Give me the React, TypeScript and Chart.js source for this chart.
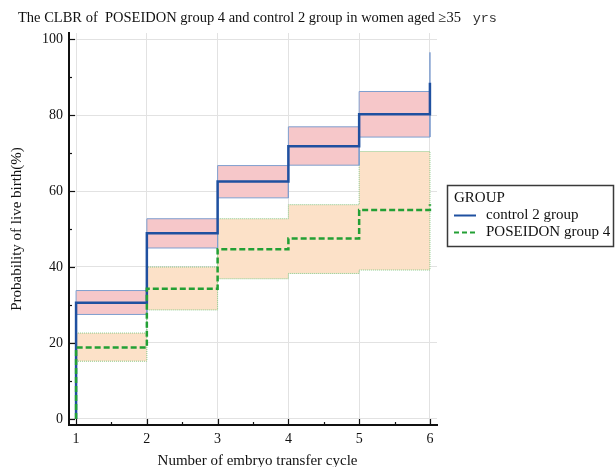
import React, { useEffect, useRef } from 'react';
import { Chart, registerables } from 'chart.js';

Chart.register(...registerables);

const TITLE_MAIN = 'The CLBR of  POSEIDON group 4 and control 2 group in women aged \u226535 ';
const TITLE_UNIT = ' yrs';
const X_TITLE = 'Number of embryo transfer cycle';
const Y_TITLE = 'Probability of live birth(%)';
const LEGEND_TITLE = 'GROUP';
const SERIES_NAMES = ['control 2 group', 'POSEIDON group 4'];

const cycles = [1, 2, 3, 4, 5, 6];
const xMajorTicks = [1, 2, 3, 4, 5, 6];
const xMinorTicks = [1.5, 2.5, 3.5, 4.5, 5.5];
const yMajorTicks = [0, 20, 40, 60, 80, 100];
const yMinorTicks = [10, 30, 50, 70, 90];

// value holding from each cycle onwards (last entry = value reached at cycle 6)
const controlCLBR = [30.6, 48.9, 62.5, 71.8, 80.2, 88.5];
const controlLower = [27.5, 45.0, 58.2, 66.8, 74.2, 80.0];
const controlUpper = [33.8, 52.7, 66.7, 76.9, 86.2, 96.5];
const poseidonCLBR = [18.8, 34.3, 44.7, 47.5, 55.0, 56.5];
const poseidonLower = [15.2, 28.7, 36.9, 38.3, 39.2, 39.2];
const poseidonUpper = [22.6, 40.0, 52.7, 56.4, 70.4, 70.4];

const SERIF = '"Liberation Serif", "Times New Roman", serif';
const MONO = '"Liberation Mono", "Courier New", monospace';
const BLUE = '#1f50a0';
const GREEN = '#23a035';

function stepPoints(values: number[]) {
  const pts = [{ x: cycles[0], y: 0 }];
  cycles.forEach((c, i) => pts.push({ x: c, y: values[i] }));
  return pts;
}

function bandPoints(lower: number[], upper: number[]) {
  const n = cycles.length;
  const pts: { x: number; y: number }[] = [];
  for (let k = 0; k < n; k++) {
    pts.push({ x: cycles[k], y: upper[k] });
    if (k < n - 1) pts.push({ x: cycles[k + 1], y: upper[k] });
  }
  for (let k = n - 1; k >= 0; k--) {
    pts.push({ x: cycles[k], y: lower[k] });
    if (k > 0) pts.push({ x: cycles[k], y: lower[k - 1] });
  }
  pts.push({ x: cycles[0], y: upper[0] });
  return pts;
}

const decorPlugin = {
  id: 'decor',
  afterDraw(chart: any) {
    const ctx = chart.ctx as CanvasRenderingContext2D;
    const xs = chart.scales.x;
    const ys = chart.scales.y;
    const area = chart.chartArea;
    ctx.save();
    // inward tick marks
    ctx.strokeStyle = '#111';
    ctx.lineWidth = 1.2;
    const left = area.left;
    const bottom = area.bottom;
    yMajorTicks.forEach((v) => {
      const py = Math.round(ys.getPixelForValue(v)) + 0.5;
      ctx.beginPath(); ctx.moveTo(left, py); ctx.lineTo(left + 6, py); ctx.stroke();
    });
    yMinorTicks.forEach((v) => {
      const py = Math.round(ys.getPixelForValue(v)) + 0.5;
      ctx.beginPath(); ctx.moveTo(left, py); ctx.lineTo(left + 3, py); ctx.stroke();
    });
    xMajorTicks.forEach((v) => {
      const px = Math.round(xs.getPixelForValue(v)) + 0.5;
      ctx.beginPath(); ctx.moveTo(px, bottom); ctx.lineTo(px, bottom - 6); ctx.stroke();
    });
    xMinorTicks.forEach((v) => {
      const px = Math.round(xs.getPixelForValue(v)) + 0.5;
      ctx.beginPath(); ctx.moveTo(px, bottom); ctx.lineTo(px, bottom - 3); ctx.stroke();
    });

    // title
    ctx.fillStyle = '#111';
    ctx.textBaseline = 'alphabetic';
    ctx.textAlign = 'left';
    ctx.font = `14.5px ${SERIF}`;
    const tx = 18;
    const ty = 22;
    ctx.fillText(TITLE_MAIN, tx, ty);
    const w = ctx.measureText(TITLE_MAIN).width;
    ctx.font = `13.5px ${MONO}`;
    ctx.fillStyle = '#333';
    ctx.fillText(TITLE_UNIT, tx + w, ty);

    // axis titles
    ctx.fillStyle = '#111';
    ctx.font = `15px ${SERIF}`;
    ctx.textAlign = 'center';
    ctx.textBaseline = 'middle';
    ctx.fillText(X_TITLE, 257.5, 461);
    ctx.save();
    ctx.translate(17, (area.top + area.bottom) / 2);
    ctx.rotate(-Math.PI / 2);
    ctx.fillText(Y_TITLE, 0, 0);
    ctx.restore();

    // legend
    const bx = 447.5, by = 185.5, bw = 166, bh = 61;
    ctx.fillStyle = '#fff';
    ctx.fillRect(bx, by, bw, bh);
    ctx.strokeStyle = '#3a3a3a';
    ctx.lineWidth = 1.5;
    ctx.setLineDash([]);
    ctx.strokeRect(bx, by, bw, bh);
    ctx.fillStyle = '#111';
    ctx.textAlign = 'left';
    ctx.textBaseline = 'middle';
    ctx.font = `15px ${SERIF}`;
    ctx.fillText(LEGEND_TITLE, 454, 198);
    ctx.lineWidth = 2;
    ctx.strokeStyle = BLUE;
    ctx.beginPath(); ctx.moveTo(454, 215.5); ctx.lineTo(476, 215.5); ctx.stroke();
    ctx.fillText(SERIES_NAMES[0], 486, 215.5);
    ctx.strokeStyle = GREEN;
    ctx.setLineDash([5, 3]);
    ctx.beginPath(); ctx.moveTo(454, 232.5); ctx.lineTo(477, 232.5); ctx.stroke();
    ctx.setLineDash([]);
    ctx.fillText(SERIES_NAMES[1], 486, 232.5);
    ctx.restore();
  },
};

export default function App() {
  const ref = useRef<HTMLCanvasElement | null>(null);
  useEffect(() => {
    document.body.style.margin = '0';
    const canvas = ref.current;
    if (!canvas) return;
    const chart = new Chart(canvas, {
      type: 'line',
      data: {
        datasets: [
          {
            label: SERIES_NAMES[0],
            data: stepPoints(controlCLBR),
            stepped: 'before',
            borderColor: BLUE,
            borderWidth: 2.5,
            pointRadius: 0,
            fill: false,
            order: 1,
          },
          {
            label: SERIES_NAMES[1],
            data: stepPoints(poseidonCLBR),
            stepped: 'before',
            borderColor: GREEN,
            borderWidth: 2.5,
            borderDash: [6, 3],
            pointRadius: 0,
            fill: false,
            order: 0,
          },
          {
            label: 'control CI',
            data: bandPoints(controlLower, controlUpper),
            borderColor: '#7f9fcf',
            backgroundColor: '#f6c7c9',
            borderWidth: 1,
            pointRadius: 0,
            fill: 'shape',
            order: 2,
          },
          {
            label: 'poseidon CI',
            data: bandPoints(poseidonLower, poseidonUpper),
            borderColor: '#86c886',
            backgroundColor: '#fce1c8',
            borderWidth: 1,
            borderDash: [1, 1],
            pointRadius: 0,
            fill: 'shape',
            order: 2,
          },
        ],
      },
      options: {
        responsive: false,
        animation: false,
        devicePixelRatio: 1,
        layout: { padding: { top: 33, right: 178, left: 0, bottom: 0 } },
        plugins: {
          legend: { display: false },
          tooltip: { enabled: false },
          title: { display: false },
        },
        scales: {
          x: {
            type: 'linear',
            min: 0.9,
            max: 6.1,
            afterFit: (s: any) => { s.height = 42; },
            afterBuildTicks: (s: any) => {
              s.ticks = [...xMajorTicks, ...xMinorTicks].sort((a, b) => a - b).map((v) => ({ value: v }));
            },
            ticks: {
              autoSkip: false,
              maxRotation: 0,
              padding: 6,
              color: '#111',
              font: { family: SERIF, size: 14 },
              callback: (v: any) => (Number.isInteger(v) ? String(v) : ''),
            },
            grid: {
              drawTicks: false,
              color: (c: any) => (c.tick && Number.isInteger(c.tick.value) ? '#e2e2e2' : 'rgba(0,0,0,0)'),
              lineWidth: 1,
            },
            border: { display: true, color: '#111', width: 2 },
          },
          y: {
            type: 'linear',
            min: -1.6,
            max: 101.6,
            afterFit: (s: any) => { s.width = 69; },
            afterBuildTicks: (s: any) => {
              s.ticks = [...yMajorTicks, ...yMinorTicks].sort((a, b) => a - b).map((v) => ({ value: v }));
            },
            ticks: {
              autoSkip: false,
              padding: 6,
              color: '#111',
              font: { family: SERIF, size: 14 },
              callback: (v: any) => (v % 20 === 0 ? String(v) : ''),
            },
            grid: {
              drawTicks: false,
              color: (c: any) => (c.tick && c.tick.value % 20 === 0 ? '#e2e2e2' : 'rgba(0,0,0,0)'),
              lineWidth: 1,
            },
            border: { display: true, color: '#111', width: 2 },
          },
        },
      },
      plugins: [decorPlugin],
    } as any);
    return () => chart.destroy();
  }, []);
  return (
    <div style={{ position: 'absolute', left: 0, top: 0, width: 615, height: 467, background: '#fff' }}>
      <canvas ref={ref} width={615} height={467} style={{ display: 'block', width: 615, height: 467 }} />
    </div>
  );
}
